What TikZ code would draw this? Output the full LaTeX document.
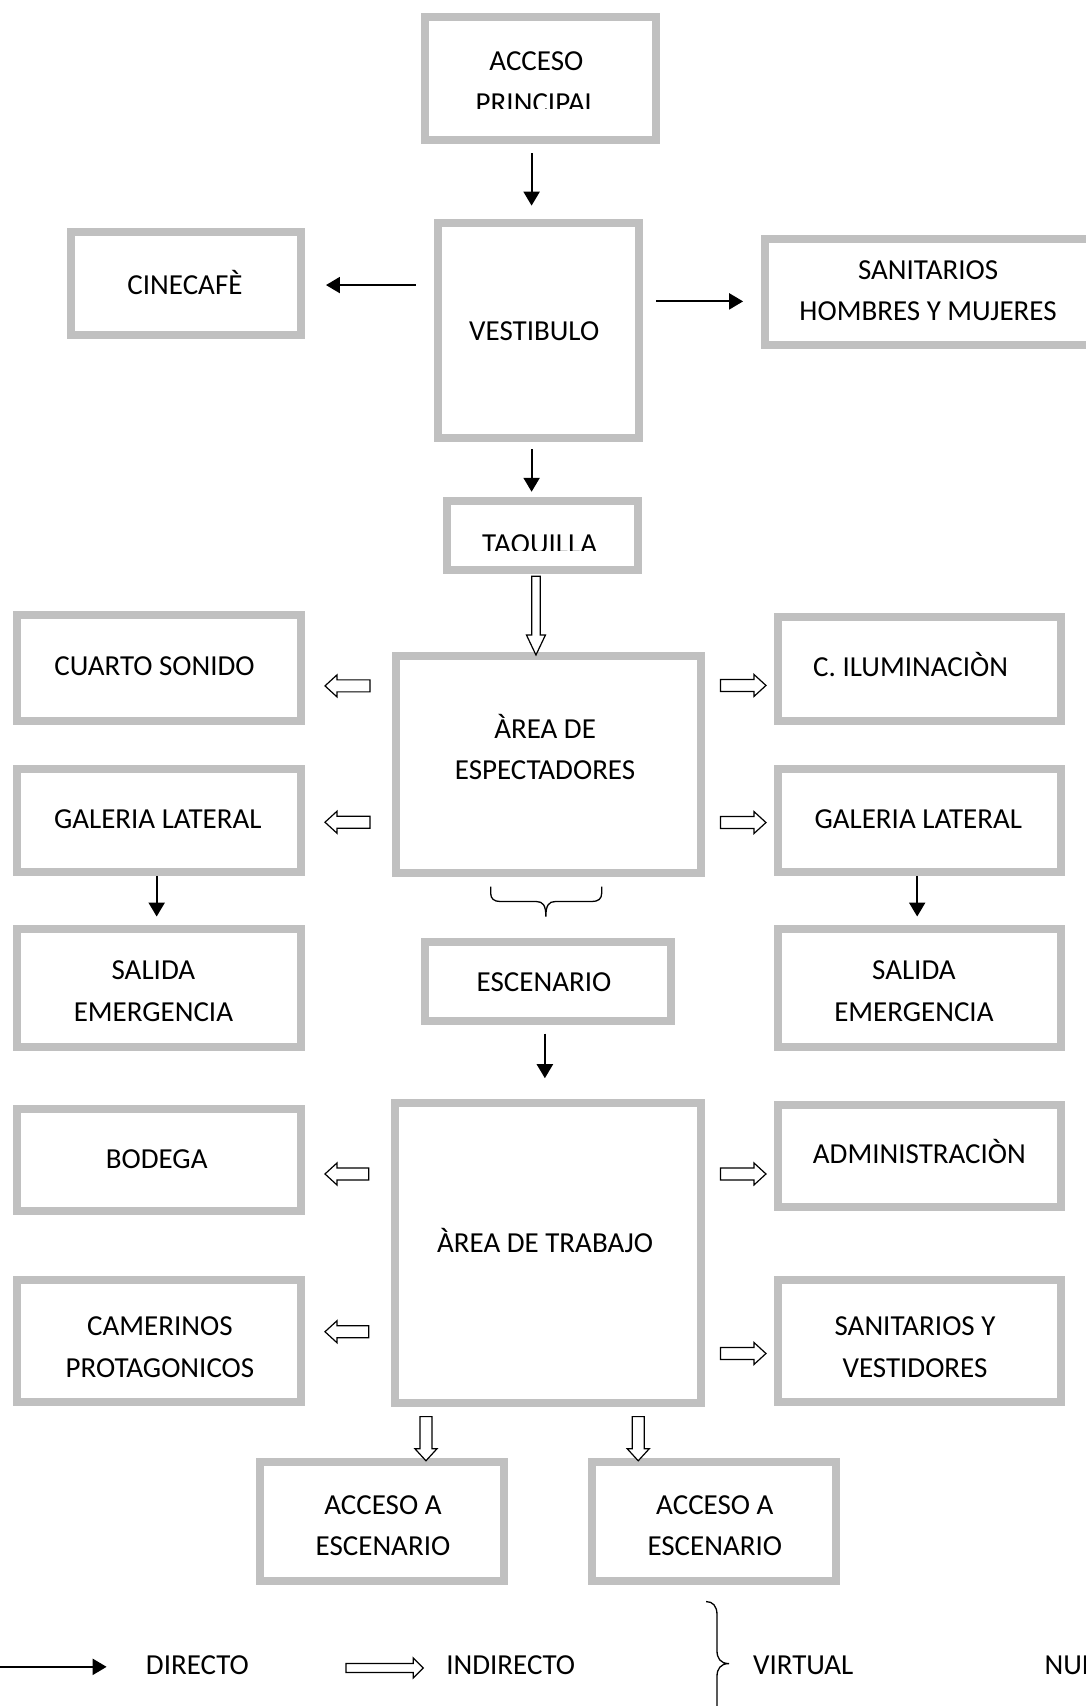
\documentclass[tikz,border=0pt]{standalone}
\usepackage{fontspec}
\setmainfont{Carlito}
\usetikzlibrary{arrows.meta,calc}
\definecolor{boxgray}{RGB}{192,192,192}
\newcommand\capline[1]{\raisebox{0pt}[18.7pt][0pt]{#1}}
\newcommand\gbx[5]{\node[gbox, minimum width={(#4-#2)*1.0882pt-8pt}, minimum height={(#5-#3)*1.0882pt-8pt}] (#1) at ({(#2+#4)/2},{(#3+#5)/2}) {};}
\tikzset{
  gbox/.style={draw=boxgray, line width=8pt, fill=white, inner sep=0pt, rectangle},
  txt/.style={font=\fontsize{29}{41.4}\selectfont, align=center, inner sep=0pt},
  direct/.style={draw=black, line width=2.2pt, -{Triangle[length=14pt,width=16pt]}},
  bracestyle/.style={draw=black, line width=1.3pt},
  hsw/.store in=\hsw, hhw/.store in=\hhw, hhl/.store in=\hhl,
  hsw=6pt, hhw=11pt, hhl=12pt,
  hollow/.style={draw=black, fill=white, line width=1.2pt, line join=miter,
    to path={let \p1=($(\tikztotarget)-(\tikztostart)$),
                 \n1={veclen(\x1,\y1)},
                 \n2={atan2(\y1,\x1)} in
      ($(\tikztostart)+({\n2+90}:\hsw)$)
      -- ($(\tikztostart)+({\n2}:{\n1-\hhl})+({\n2+90}:\hsw)$)
      -- ($(\tikztostart)+({\n2}:{\n1-\hhl})+({\n2+90}:\hhw)$)
      -- (\tikztotarget)
      -- ($(\tikztostart)+({\n2}:{\n1-\hhl})+({\n2-90}:\hhw)$)
      -- ($(\tikztostart)+({\n2}:{\n1-\hhl})+({\n2-90}:\hsw)$)
      -- ($(\tikztostart)+({\n2-90}:\hsw)$) -- cycle}}
}
\begin{document}
\begin{tikzpicture}[x=1.0882pt, y=-1.0882pt]
\path[use as bounding box, fill=white] (0,0) rectangle (998,1568);
\clip (0,0) rectangle (998,1568);

% boxes
\gbx{acc}{387}{12}{607}{132}
\gbx{vest}{399}{201}{591}{406}
\gbx{cine}{62}{210}{280}{312}
\gbx{sanh}{699}{216}{1006}{321}
\gbx{taq}{407}{457}{590}{528}
\gbx{cs}{12}{562}{280}{666}
\gbx{esp}{360}{599}{648}{806}
\gbx{ci}{711}{563}{979}{666}
\gbx{gl}{12}{703}{280}{805}
\gbx{gr}{711}{703}{979}{805}
\gbx{sel}{12}{850}{280}{966}
\gbx{esc}{387}{862}{620}{942}
\gbx{ser}{711}{850}{979}{966}
\gbx{bod}{12}{1016}{280}{1117}
\gbx{tra}{359}{1010}{648}{1293}
\gbx{adm}{711}{1012}{979}{1113}
\gbx{cam}{12}{1173}{280}{1292}
\gbx{sve}{711}{1173}{979}{1292}
\gbx{ael}{235}{1340}{467}{1457}
\gbx{aer}{540}{1340}{772}{1457}

% texts
\begin{scope}
\clip (387,12) rectangle (607,99.3);
\node[txt] (t-acc) at (493,75.5) {\capline{ACCESO}\\\capline{PRINCIPAL}};
\end{scope}
\node[txt] (t-vest) at (491,304) {\capline{VESTIBULO}};
\node[txt] (t-cine) at (170,262) {\capline{CINECAFÈ}};
\node[txt] (t-sanh) at (853,267) {\capline{SANITARIOS}\\\capline{HOMBRES Y MUJERES}};
\begin{scope}
\clip (407,457) rectangle (590,506.3);
\node[txt] (t-taq) at (496,500.2) {\capline{TAQUILLA}};
\end{scope}
\node[txt] (t-cs) at (142,612) {\capline{CUARTO SONIDO}};
\node[txt] (t-esp) at (501,689) {\capline{ÀREA DE}\\\capline{ESPECTADORES}};
\node[txt] (t-ci) at (837,613) {\capline{C. ILUMINACIÒN}};
\node[txt] (t-gl) at (145,753) {\capline{GALERIA LATERAL}};
\node[txt] (t-gr) at (844,753) {\capline{GALERIA LATERAL}};
\node[txt] (t-sel) at (141,911) {\capline{SALIDA}\\\capline{EMERGENCIA}};
\node[txt] (t-esc) at (500,903) {\capline{ESCENARIO}};
\node[txt] (t-ser) at (840,911) {\capline{SALIDA}\\\capline{EMERGENCIA}};
\node[txt] (t-bod) at (144,1065) {\capline{BODEGA}};
\node[txt] (t-tra) at (501,1143) {\capline{ÀREA DE TRABAJO}};
\node[txt] (t-adm) at (845,1061) {\capline{ADMINISTRACIÒN}};
\node[txt] (t-cam) at (147,1238) {\capline{CAMERINOS}\\\capline{PROTAGONICOS}};
\node[txt] (t-sve) at (841,1238) {\capline{SANITARIOS Y}\\\capline{VESTIDORES}};
\node[txt] (t-ael) at (352,1402) {\capline{ACCESO A}\\\capline{ESCENARIO}};
\node[txt] (t-aer) at (657,1402) {\capline{ACCESO A}\\\capline{ESCENARIO}};

% direct arrows
\draw[direct] ($(acc.south -| 488.6,0)+(0,9)$) -- ($(vest.north -| 488.6,0)+(0,-12)$);
\draw[direct] ($(vest.west |- 0,262)+(-16.7,0)$) -- ($(cine.east |- 0,262)+(19.6,0)$);
\draw[direct] ($(vest.east |- 0,277)+(12,0)$) -- ($(sanh.west |- 0,277)+(-16,0)$);
\draw[direct] ($(vest.south -| 488.6,0)+(0,7)$) -- ($(taq.north -| 488.6,0)+(0,-5)$);
\draw[direct] (gl.south -| 144,0) -- ($(sel.north -| 144,0)+(0,-7.6)$);
\draw[direct] (gr.south -| 843,0) -- ($(ser.north -| 843,0)+(0,-7.6)$);
\draw[direct] ($(esc.south -| 500.8,0)+(0,8)$) -- ($(tra.north -| 500.8,0)+(0,-19)$);

% indirect arrows
\draw[hollow, hsw=4.2pt, hhw=9.5pt, hhl=20pt] ($(taq.south -| 492.6,0)+(0,1.6)$) to ($(esp.north -| 492.6,0)+(0,3)$);
\draw[hollow] ($(esp.west |- 0,630.4)+(-20,0)$) to ($(cs.east |- 0,630.4)+(18.7,0)$);
\draw[hollow] ($(esp.west |- 0,755.7)+(-20,0)$) to ($(gl.east |- 0,755.7)+(18.7,0)$);
\draw[hollow] ($(esp.east |- 0,630)+(14.3,0)$) to ($(ci.west |- 0,630)+(-7,0)$);
\draw[hollow] ($(esp.east |- 0,756)+(14.3,0)$) to ($(gr.west |- 0,756)+(-7,0)$);
\draw[hollow] ($(tra.west |- 0,1079)+(-20,0)$) to ($(bod.east |- 0,1079)+(18.7,0)$);
\draw[hollow] ($(tra.west |- 0,1224)+(-20,0)$) to ($(cam.east |- 0,1224)+(18.7,0)$);
\draw[hollow] ($(tra.east |- 0,1079)+(14.3,0)$) to ($(adm.west |- 0,1079)+(-7,0)$);
\draw[hollow] ($(tra.east |- 0,1244)+(14.3,0)$) to ($(sve.west |- 0,1244)+(-7,0)$);
\draw[hollow] ($(tra.south -| 391.5,0)+(0,9)$) to ($(ael.north -| 391.5,0)+(0,2.6)$);
\draw[hollow] ($(tra.south -| 586.6,0)+(0,9)$) to ($(aer.north -| 586.6,0)+(0,2.6)$);

% virtual brace under the spectators' area
\draw[bracestyle] (451,815) -- (451,821)
  .. controls (451,826) and (454,828.6) .. (460,828.6) -- (493,828.6)
  .. controls (499,828.6) and (501.7,832) .. (501.7,842.4)
  .. controls (501.7,832) and (504.4,828.6) .. (510.4,828.6) -- (544,828.6)
  .. controls (550,828.6) and (553,826) .. (553,821) -- (553,815);

% legend
\coordinate (ld1) at (0,1532);
\coordinate (ld2) at (98,1532);
\draw[direct] (ld1) -- (ld2);
\node[txt, anchor=west] (t-dir) at (134,1530) {\capline{DIRECTO}};
\coordinate (li1) at (318,1533);
\coordinate (li2) at (389,1533);
\draw[hollow, hsw=4.5pt, hhw=10pt, hhl=10pt] (li1) to (li2);
\node[txt, anchor=west] (t-ind) at (410,1530) {\capline{INDIRECTO}};
\draw[bracestyle] (649,1472)
  .. controls (655,1472) and (659,1476) .. (659,1484) -- (659,1517)
  .. controls (659,1524) and (662,1529) .. (670,1529)
  .. controls (662,1529) and (659,1534) .. (659,1541) -- (659,1574)
  .. controls (659,1582) and (655,1586) .. (649,1586);
\node[txt, anchor=west] (t-vir) at (692,1530) {\capline{VIRTUAL}};
\node[txt, anchor=west] (t-nul) at (960,1530) {\capline{NULO}};
\end{tikzpicture}
\end{document}
